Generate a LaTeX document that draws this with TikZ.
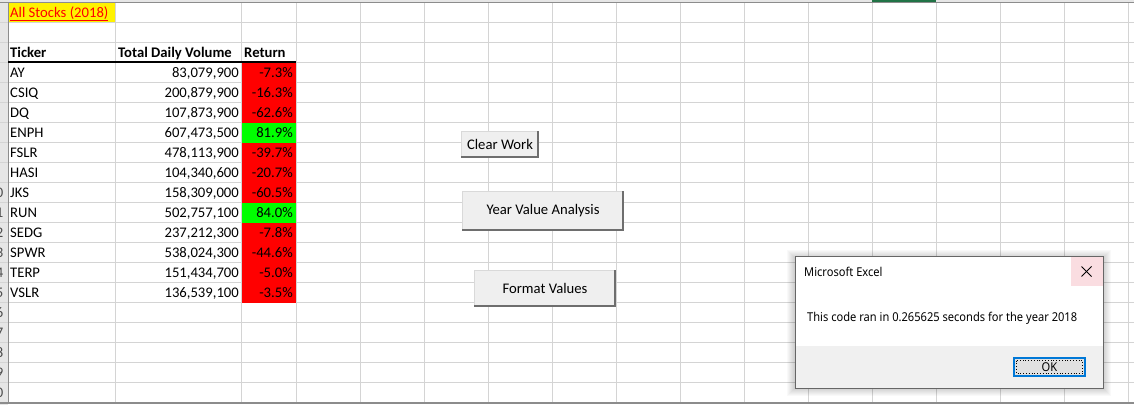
\documentclass[tikz,border=0pt]{standalone}
\usepackage{fontspec}
\setmainfont{Carlito}
\newfontfamily\dlgfont[FakeStretch=0.91]{Noto Sans}
\definecolor{gridc}{HTML}{D4D4D4}
\definecolor{hdrc}{HTML}{E6E6E6}
\definecolor{retred}{HTML}{FF0000}
\definecolor{retgreen}{HTML}{00FF00}
\definecolor{btnfill}{HTML}{EFEFEF}
\definecolor{btndark}{HTML}{6E6E6E}
\definecolor{dlgfoot}{HTML}{F0F0F0}
\definecolor{closepink}{HTML}{FADDE1}
\definecolor{okblue}{HTML}{0078D7}
\definecolor{okfill}{HTML}{E1E1E1}
\definecolor{xlgreen}{HTML}{217346}
\tikzset{
  cell/.style={inner sep=0pt, font=\fontsize{14.67}{17}\selectfont},
  celll/.style={cell, anchor=base west},
  cellr/.style={cell, anchor=base east},
  hdrtext/.style={cell, font=\fontsize{14.67}{17}\selectfont\bfseries, anchor=base west},
  rownum/.style={inner sep=0pt, anchor=base east, text=black!70, font=\fontsize{14.67}{17}\selectfont},
  btn/.style={inner sep=0pt, font=\fontsize{14.67}{17}\selectfont},
  dlgtext/.style={inner sep=0pt, anchor=base west, font=\dlgfont\fontsize{12.2}{14}\selectfont},
}
\begin{document}
\begin{tikzpicture}[x=1pt,y=-1pt]
\useasboundingbox (0,0) rectangle (1134,405);
\fill[white] (0,0) rectangle (1134,405);
% row header strip and top strip
\fill[hdrc] (0,0) rectangle (8,405);
\fill[hdrc] (0,0) rectangle (1134,2);
% row numbers (only their right edge shows)
\foreach \n [count=\k from 0] in {10,11,...,20}
  \node[rownum] (rn\n) at (3.5,{197+20*\k}) {\n};
\fill[white] (8,2) rectangle (1134,403);
% grid
\foreach \yy in {22,42,...,402} \draw[gridc, line width=1pt] (0,\yy) -- (1134,\yy);
\foreach \xx in {115,241,296,360,424,...,1128} \draw[gridc, line width=1pt] (\xx,2) -- (\xx,403);
\draw[black!45, line width=1pt] (8,2) -- (8,403);
\draw[black!45, line width=1pt] (0,2) -- (1134,2);
\draw[black!45, line width=1.5pt] (0,403) -- (1134,403);
\fill[xlgreen] (872,0) rectangle (936,2);
% title
\fill[yellow] (8.5,2.5) rectangle (114.5,21.5);
\node[celll, text=red] (title) at (10,17) {\underline{All Stocks (2018)}};
% headers
\node[hdrtext] (hticker) at (10,57) {Ticker};
\node[hdrtext] (hvol) at (118,57) {Total Daily Volume};
\node[hdrtext] (hret) at (244,57) {Return};
\draw[black, line width=1.3pt] (8,62) -- (296,62);
% data
\foreach \t/\v/\r/\c [count=\i from 0] in {
  AY/{83,079,900}/{-7.3\%}/retred,
  CSIQ/{200,879,900}/{-16.3\%}/retred,
  DQ/{107,873,900}/{-62.6\%}/retred,
  ENPH/{607,473,500}/{81.9\%}/retgreen,
  FSLR/{478,113,900}/{-39.7\%}/retred,
  HASI/{104,340,600}/{-20.7\%}/retred,
  JKS/{158,309,000}/{-60.5\%}/retred,
  RUN/{502,757,100}/{84.0\%}/retgreen,
  SEDG/{237,212,300}/{-7.8\%}/retred,
  SPWR/{538,024,300}/{-44.6\%}/retred,
  TERP/{151,434,700}/{-5.0\%}/retred,
  VSLR/{136,539,100}/{-3.5\%}/retred}{
  \fill[\c] (241.5,{62.5+20*\i}) rectangle (296,{82.5+20*\i});
  \node[celll] (t\i) at (10,{77+20*\i}) {\t};
  \node[cellr] (v\i) at (239,{77+20*\i}) {\v};
  \node[cellr] (r\i) at (293,{77+20*\i}) {\r};
}
% buttons
\foreach \nm/\xa/\ya/\xb/\yb/\tx in {
  bclear/461/131/539/158/{Clear Work},
  byear/462/191/624/231/{Year Value Analysis},
  bformat/474/270/616/307/{Format Values}}{
  \fill[btnfill] (\xa,\ya) rectangle (\xb,\yb);
  \draw[white!85!black, line width=1pt] (\xa+0.5,\yb-1) -- (\xa+0.5,\ya+0.5) -- (\xb-1,\ya+0.5);
  \draw[btndark, line width=2pt] (\xa,\yb-1) -- (\xb-1,\yb-1) -- (\xb-1,\ya);
  \node[btn] (\nm) at ({(\xa+\xb)/2},{(\ya+\yb)/2}) {\tx};
}
% dialog shadow
\foreach \s in {1,...,8}
  \fill[black, opacity=0.025] (795-\s,256-\s+2) rectangle (1103+\s,388+\s);
\fill[white] (795,256) rectangle (1103,388);
\fill[dlgfoot] (795.5,346) rectangle (1102.5,387.5);
\fill[closepink] (1071,256.5) rectangle (1102.5,286);
\draw[black!60, line width=1pt] (795,256) rectangle (1103,388);
\node[dlgtext] (dtitle) at (804,276.5) {Microsoft Excel};
\node[dlgtext] (dmsg) at (807,321.5) {This code ran in 0.265625 seconds for the year 2018};
\coordinate (xc) at (1086.5,271.5);
\draw[black, line width=0.9pt] ([shift={(-5,-5)}]xc) -- ([shift={(5,5)}]xc);
\draw[black, line width=0.9pt] ([shift={(-5,5)}]xc) -- ([shift={(5,-5)}]xc);
% OK button
\fill[okfill] (1013,357) rectangle (1086,377);
\draw[okblue, line width=2pt] (1014,358) rectangle (1085,376);
\draw[black, line width=0.8pt, dotted] (1016.5,360.5) rectangle (1082.5,373.5);
\node[dlgtext, anchor=center] (okbtn) at (1049.5,367) {OK};
\end{tikzpicture}
\end{document}
